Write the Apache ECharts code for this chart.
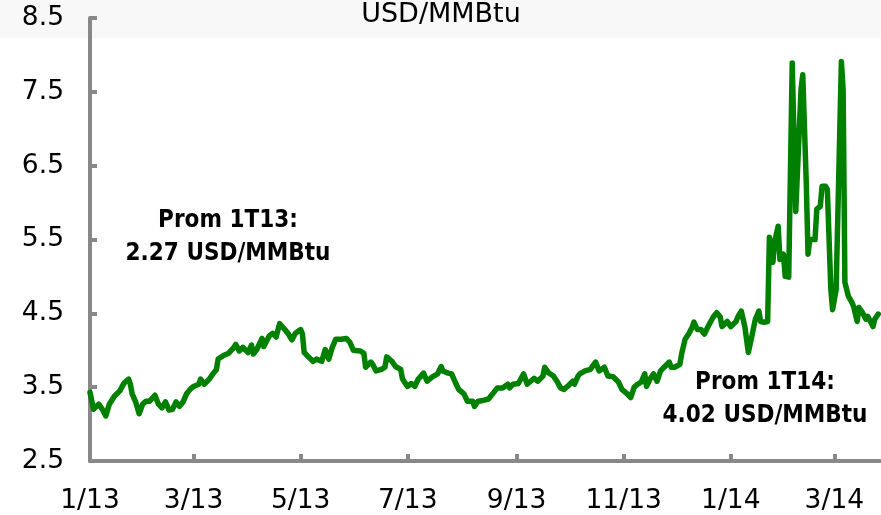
<!DOCTYPE html>
<html>
<head>
<meta charset="utf-8">
<script src="https://cdn.jsdelivr.net/npm/echarts@6/dist/echarts.min.js"></script>
<style>
html,body{margin:0;padding:0;background:#ffffff;}
#chart{width:881px;height:515px;}
</style>
</head>
<body>
<div id="chart"></div>
<script>
var FONT = "'DejaVu Sans',sans-serif";
var FONT_NOTE = "'DejaVu Sans Condensed','DejaVu Sans',sans-serif";

var dates = [
'2013-01-01','2013-01-03','2013-01-04','2013-01-06','2013-01-08','2013-01-10','2013-01-12','2013-01-15','2013-01-18','2013-01-20',
'2013-01-21','2013-01-23','2013-01-24','2013-01-25','2013-01-27','2013-01-29','2013-01-31','2013-02-02','2013-02-04','2013-02-07',
'2013-02-09','2013-02-11','2013-02-13','2013-02-15','2013-02-17','2013-02-19','2013-02-21','2013-02-23','2013-02-25','2013-02-27',
'2013-03-01','2013-03-04','2013-03-05','2013-03-07','2013-03-10','2013-03-12','2013-03-14','2013-03-15','2013-03-18','2013-03-21',
'2013-03-24','2013-03-25','2013-03-27','2013-03-29','2013-04-01','2013-04-03','2013-04-04','2013-04-06','2013-04-09','2013-04-10',
'2013-04-13','2013-04-15','2013-04-17','2013-04-19','2013-04-20','2013-04-22','2013-04-24','2013-04-26','2013-04-28','2013-05-01',
'2013-05-02','2013-05-03','2013-05-05','2013-05-08','2013-05-10','2013-05-13','2013-05-15','2013-05-17','2013-05-19','2013-05-21',
'2013-05-24','2013-05-27','2013-05-29','2013-05-31','2013-06-04','2013-06-06','2013-06-07','2013-06-10','2013-06-11','2013-06-13',
'2013-06-16','2013-06-18','2013-06-19','2013-06-22','2013-06-24','2013-06-27','2013-06-28','2013-06-30','2013-07-01','2013-07-03',
'2013-07-05','2013-07-07','2013-07-10','2013-07-12','2013-07-15','2013-07-18','2013-07-20','2013-07-21','2013-07-24','2013-07-26',
'2013-07-28','2013-07-30','2013-08-02','2013-08-04','2013-08-07','2013-08-08','2013-08-10','2013-08-13','2013-08-16','2013-08-19',
'2013-08-21','2013-08-24','2013-08-27','2013-08-28','2013-08-30','2013-09-02','2013-09-05','2013-09-07','2013-09-09','2013-09-11',
'2013-09-13','2013-09-16','2013-09-17','2013-09-19','2013-09-22','2013-09-24','2013-09-26','2013-09-28','2013-09-30','2013-10-03',
'2013-10-04','2013-10-06','2013-10-07','2013-10-10','2013-10-13','2013-10-16','2013-10-18','2013-10-21','2013-10-23','2013-10-26',
'2013-10-29','2013-10-31','2013-11-03','2013-11-05','2013-11-07','2013-11-09','2013-11-11','2013-11-13','2013-11-14','2013-11-16',
'2013-11-18','2013-11-20','2013-11-22','2013-11-24','2013-11-27','2013-11-28','2013-11-30','2013-12-03','2013-12-04','2013-12-06',
'2013-12-08','2013-12-10','2013-12-11','2013-12-13','2013-12-15','2013-12-17','2013-12-19','2013-12-22','2013-12-24','2013-12-26',
'2013-12-27','2013-12-30','2014-01-01','2014-01-04','2014-01-05','2014-01-07','2014-01-09','2014-01-11','2014-01-13','2014-01-15',
'2014-01-17','2014-01-18','2014-01-20','2014-01-22','2014-01-23','2014-01-25','2014-01-26','2014-01-28','2014-01-29','2014-01-31',
'2014-02-01','2014-02-03','2014-02-04','2014-02-05','2014-02-07','2014-02-08','2014-02-10','2014-02-11','2014-02-13','2014-02-14',
'2014-02-15','2014-02-18','2014-02-19','2014-02-21','2014-02-22','2014-02-24','2014-02-25','2014-02-27','2014-02-28','2014-03-02',
'2014-03-05','2014-03-06','2014-03-07','2014-03-09','2014-03-11','2014-03-12','2014-03-14','2014-03-15','2014-03-17','2014-03-19',
'2014-03-20','2014-03-23','2014-03-24','2014-03-26'
];

var prices = [
3.43,3.20,3.22,3.27,3.20,3.11,3.27,3.38,3.45,3.54,
3.57,3.61,3.54,3.41,3.30,3.14,3.27,3.31,3.31,3.39,
3.27,3.22,3.30,3.19,3.20,3.30,3.24,3.30,3.41,3.47,
3.51,3.54,3.61,3.54,3.61,3.68,3.74,3.88,3.93,3.96,
4.04,4.08,3.99,4.04,3.97,4.07,3.95,4.01,4.16,4.05,
4.19,4.23,4.18,4.36,4.35,4.28,4.22,4.14,4.23,4.28,
4.22,3.97,3.92,3.85,3.88,3.85,4.01,3.88,4.04,4.15,
4.15,4.16,4.11,4.00,3.99,3.96,3.77,3.84,3.81,3.72,
3.74,3.77,3.91,3.85,3.78,3.74,3.61,3.54,3.51,3.55,
3.51,3.61,3.69,3.58,3.64,3.68,3.78,3.72,3.69,3.68,
3.57,3.47,3.41,3.31,3.31,3.24,3.31,3.32,3.34,3.43,
3.49,3.49,3.54,3.49,3.54,3.55,3.68,3.54,3.58,3.62,
3.58,3.65,3.77,3.70,3.65,3.58,3.49,3.47,3.51,3.58,
3.54,3.65,3.68,3.72,3.74,3.84,3.72,3.77,3.65,3.64,
3.57,3.47,3.41,3.36,3.50,3.54,3.57,3.68,3.51,3.61,
3.68,3.58,3.72,3.77,3.84,3.77,3.77,3.81,3.95,4.15,
4.22,4.31,4.38,4.28,4.28,4.22,4.32,4.45,4.51,4.45,
4.32,4.39,4.32,4.39,4.45,4.53,4.32,3.97,4.19,4.42,
4.53,4.39,4.38,4.39,5.53,5.19,5.47,5.68,5.23,5.30,
5.00,4.99,5.00,7.89,5.88,5.86,7.53,7.73,6.27,5.30,
5.50,5.50,5.91,5.95,6.22,6.22,6.18,4.82,4.55,4.82,
7.91,7.53,4.92,4.73,4.65,4.59,4.39,4.58,4.51,4.42,
4.46,4.32,4.42,4.49
];

var xTickDates = ['2013-01-01','2013-03-01','2013-05-01','2013-07-01','2013-09-01','2013-11-01','2014-01-01','2014-03-01'];
var xTickLabels = ['1/13','3/13','5/13','7/13','9/13','11/13','1/14','3/14'];
var yTicks = [2.5,3.5,4.5,5.5,6.5,7.5,8.5];

var xMinDate = '2013-01-01';
var xMaxDate = '2014-03-27';

var titleText = 'USD/MMBtu';
var note1 = ['Prom 1T13:', '2.27 USD/MMBtu'];
var note2 = ['Prom 1T14:', '4.02 USD/MMBtu'];

function ts(s){ var p = s.split('-'); return Date.UTC(+p[0], +p[1]-1, +p[2]); }

var xTickTs = xTickDates.map(ts);
var seriesData = dates.map(function(d,i){ return [ts(d), prices[i]]; });

var chart = echarts.init(document.getElementById('chart'), null, {renderer:'canvas'});
var AX = '#888888';

chart.setOption({
  animation:false,
  backgroundColor:'#ffffff',
  grid:{left:90, right:1, top:18, bottom:53, containLabel:false},
  xAxis:{
    type:'value',
    min: ts(xMinDate), max: ts(xMaxDate),
    axisLine:{show:true, onZero:false, lineStyle:{color:AX, width:4}},
    axisTick:{show:true, inside:true, length:7, customValues:xTickTs, lineStyle:{color:AX, width:4}},
    axisLabel:{show:true, customValues:xTickTs, margin:27, color:'#000', fontSize:26.5, fontFamily:FONT,
      formatter:function(v){ var i=-1; for(var k=0;k<xTickTs.length;k++){ if(Math.abs(xTickTs[k]-v)<43200000) i=k; } return i>=0 ? xTickLabels[i] : ''; }},
    splitLine:{show:false}
  },
  yAxis:{
    type:'value',
    min:yTicks[0], max:yTicks[yTicks.length-1],
    axisLine:{show:true, lineStyle:{color:AX, width:4}},
    axisTick:{show:true, inside:true, length:7, customValues:yTicks, lineStyle:{color:AX, width:4}},
    axisLabel:{show:true, customValues:yTicks, margin:26, color:'#000', fontSize:26.5, fontFamily:FONT,
      formatter:function(v){ return Number(v).toFixed(1); }},
    splitLine:{show:false}
  },
  graphic:[
    {type:'rect', z:-10, silent:true, shape:{x:0,y:0,width:881,height:38}, style:{fill:'#f8f8f8'}},
    {type:'text', x:441, y:15, style:{text:titleText, fill:'#000', fontSize:27, fontFamily:FONT, align:'center', verticalAlign:'middle'}},
    {type:'text', x:228, y:221, style:{text:note1[0], fill:'#000', fontSize:24, fontWeight:'bold', fontFamily:FONT_NOTE, align:'center', verticalAlign:'middle'}},
    {type:'text', x:228, y:254, style:{text:note1[1], fill:'#000', fontSize:24, fontWeight:'bold', fontFamily:FONT_NOTE, align:'center', verticalAlign:'middle'}},
    {type:'text', x:765, y:383, style:{text:note2[0], fill:'#000', fontSize:24, fontWeight:'bold', fontFamily:FONT_NOTE, align:'center', verticalAlign:'middle'}},
    {type:'text', x:765, y:416, style:{text:note2[1], fill:'#000', fontSize:24, fontWeight:'bold', fontFamily:FONT_NOTE, align:'center', verticalAlign:'middle'}}
  ],
  series:[{
    type:'line',
    data:seriesData,
    showSymbol:false,
    symbol:'none',
    smooth:false,
    lineStyle:{color:'#008000', width:5.5, join:'round', cap:'round'},
    z:3
  }]
});
</script>
</body>
</html>
